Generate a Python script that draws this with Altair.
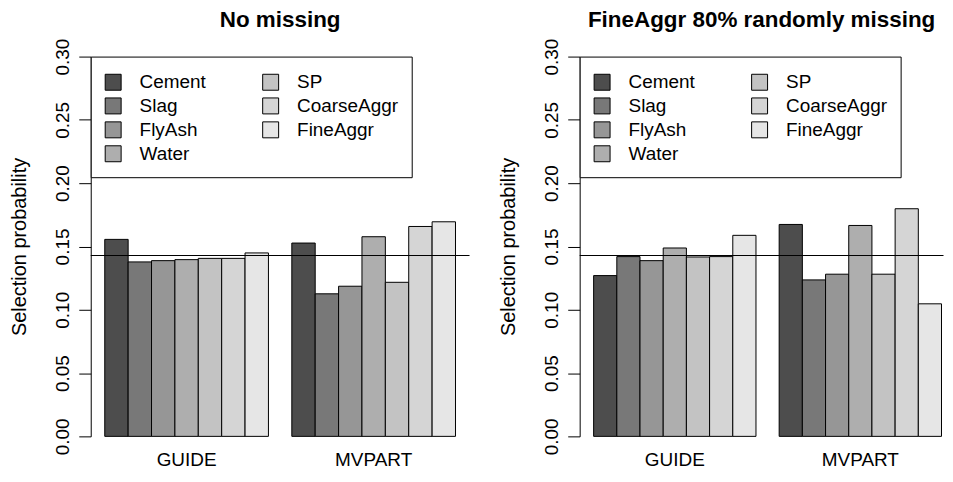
import altair as alt
import pandas as pd

FONT = "Liberation Sans"

variables = ["Cement", "Slag", "FlyAsh", "Water", "SP", "CoarseAggr", "FineAggr"]
methods = ["GUIDE", "MVPART"]
grays = ["#4D4D4D", "#787878", "#969696", "#AEAEAE", "#C3C3C3", "#D5D5D5", "#E6E6E6"]

nomiss_guide = [0.1556, 0.1378, 0.1388, 0.1396, 0.1406, 0.1406, 0.1449]
nomiss_mvpart = [0.1527, 0.1126, 0.1186, 0.1577, 0.1217, 0.1658, 0.1695]
fine80_guide = [0.1270, 0.1420, 0.1388, 0.1488, 0.1417, 0.1420, 0.1588]
fine80_mvpart = [0.1674, 0.1236, 0.1281, 0.1666, 0.1281, 0.1798, 0.1047]

reference_prob = [0.142857]  # 1/7, equal selection probability

titles = ["No missing", "FineAggr 80% randomly missing"]
y_ticks = [0.0, 0.05, 0.10, 0.15, 0.20, 0.25, 0.30]


def make_df(guide, mvpart):
    rows = []
    for m, vals in zip(methods, [guide, mvpart]):
        for v, p in zip(variables, vals):
            rows.append({"method": m, "variable": v, "prob": p})
    return pd.DataFrame(rows)


def panel(df, title, width, pad_outer, align):
    bars = alt.Chart(df).mark_bar(stroke="black", strokeWidth=1).encode(
        x=alt.X(
            "method:N", sort=methods, title=None,
            scale=alt.Scale(paddingInner=0.125, paddingOuter=pad_outer, align=align),
            axis=alt.Axis(domain=False, ticks=False, tickSize=0, labelAngle=0,
                          labelFontSize=19, labelFont=FONT, labelColor="black",
                          labelPadding=29, labelBaseline="alphabetic"),
        ),
        xOffset=alt.XOffset("variable:N", sort=variables,
                            scale=alt.Scale(paddingInner=0, paddingOuter=0)),
        y=alt.Y(
            "prob:Q", title="Selection probability",
            scale=alt.Scale(domain=[0, 0.3], nice=False, zero=True),
            axis=alt.Axis(values=y_ticks, format=".2f", grid=False,
                          domainColor="black", tickColor="black", tickSize=12,
                          domainWidth=1, tickWidth=1,
                          labelAngle=-90, labelAlign="center", labelBaseline="alphabetic",
                          labelPadding=10, labelFontSize=19, labelFont=FONT, labelColor="black",
                          titleFont=FONT, titleFontSize=20, titleFontWeight="normal",
                          titleColor="black", titleAngle=-90, titleX=-65, titleY=190.5,
                          titleAlign="center", titleBaseline="alphabetic"),
        ),
        color=alt.Color(
            "variable:N",
            scale=alt.Scale(domain=variables, range=grays),
            legend=alt.Legend(title=" ", titleFontSize=2, titlePadding=1,
                              orient="top-left", offset=0, columns=2,
                              columnPadding=54, rowPadding=3, padding=13,
                              fillColor="white", strokeColor="black",
                              symbolType="square", symbolSize=256,
                              symbolStrokeColor="black", symbolStrokeWidth=1,
                              symbolOpacity=1, labelFont=FONT, labelFontSize=19,
                              labelColor="black", labelOffset=17, labelLimit=300,
                              gridAlign="each"),
        ),
    )
    rule = alt.Chart(pd.DataFrame({"prob": reference_prob})).mark_rule(
        color="black", strokeWidth=1.2
    ).encode(y=alt.Y("prob:Q"))
    return alt.layer(bars, rule).properties(
        width=width, height=381,
        title=alt.TitleParams(text=title, font=FONT, fontSize=22.5, fontWeight="bold",
                              color="black", anchor="middle", offset=-11,
                              baseline="alphabetic"),
    )


left = panel(make_df(nomiss_guide, nomiss_mvpart), titles[0], 380, 0.075, 0.5)
right = panel(make_df(fine80_guide, fine80_mvpart), titles[1], 365, 0.043, 0.875)

chart = alt.hconcat(left, right, spacing=26.5).resolve_scale(
    x="independent", y="independent", color="independent", xOffset="independent"
).resolve_legend(color="independent").configure_view(
    stroke="transparent"
).properties(
    padding={"left": 1, "top": -1, "right": 0, "bottom": -2},
    background="white",
)

chart.save("out.html", embed_options={"renderer": "svg", "actions": False})
